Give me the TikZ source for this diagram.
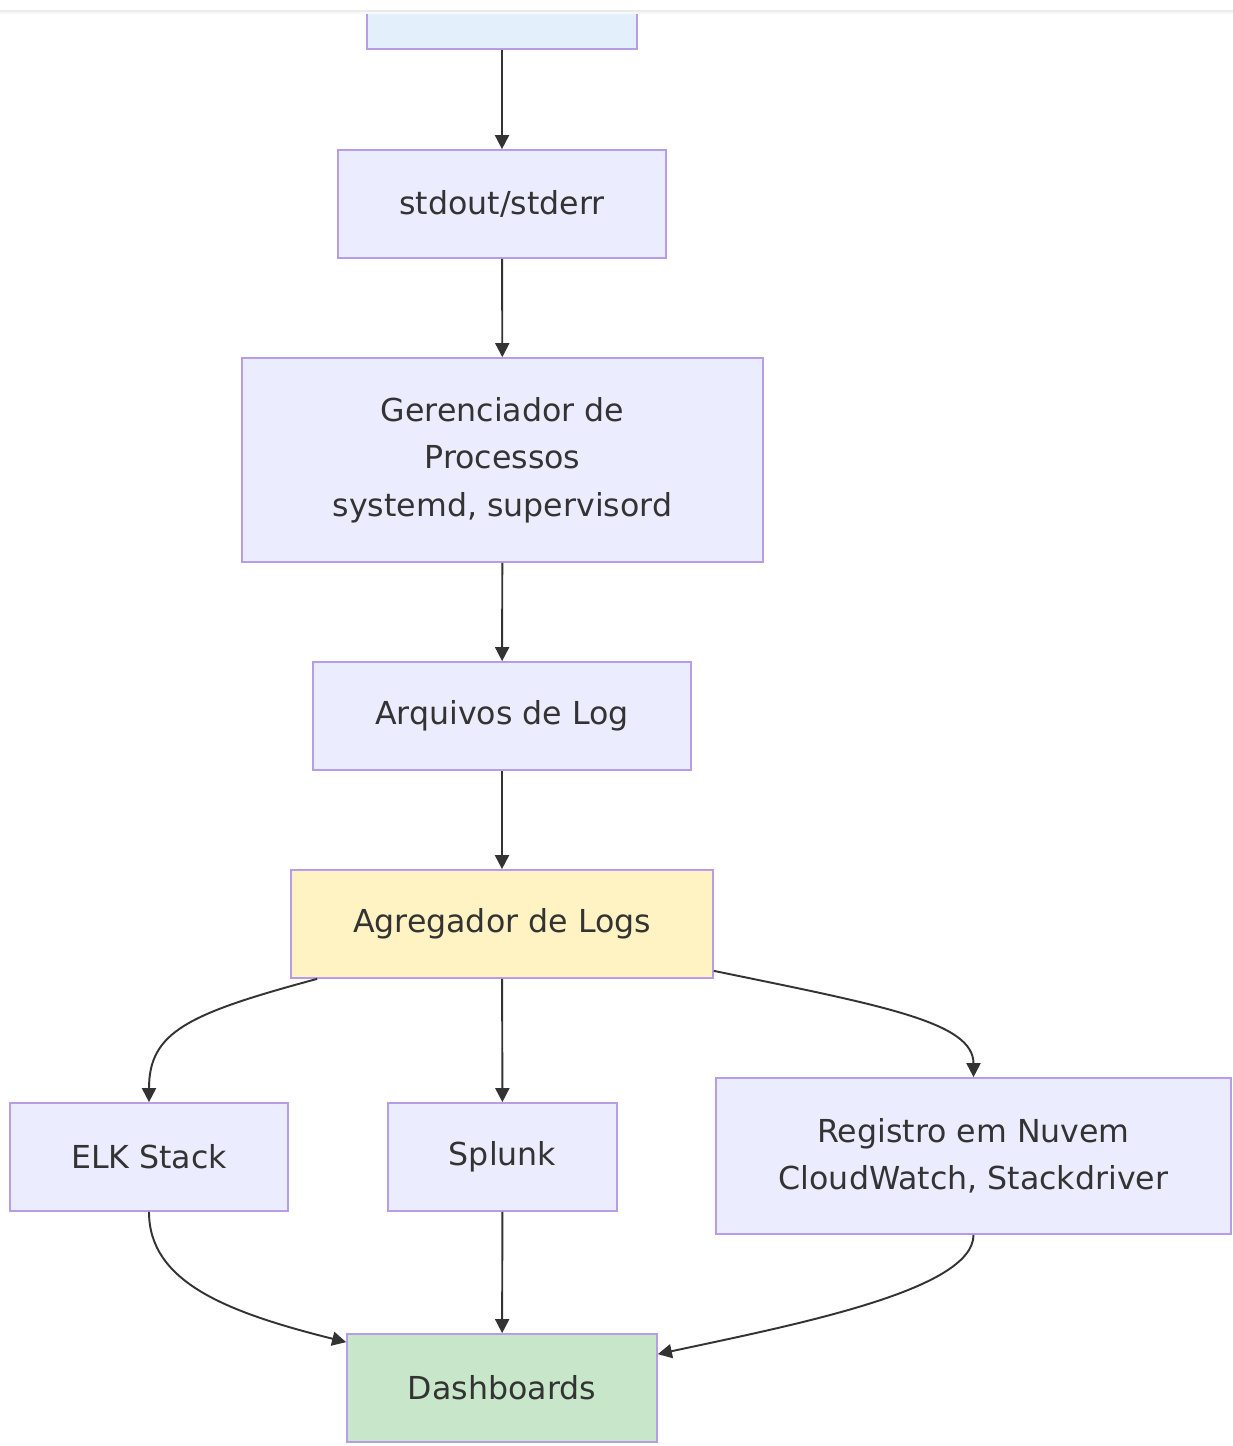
\documentclass[tikz,border=0pt]{standalone}
\usepackage{fontspec}
\setmainfont{DejaVu Sans}
\usepackage{tikz}
\usetikzlibrary{arrows.meta, positioning}

\definecolor{boxfill}{HTML}{ECECFF}
\definecolor{boxline}{HTML}{B79DE6}
\definecolor{srcfill}{HTML}{E3EFFB}
\definecolor{aggfill}{HTML}{FFF3C4}
\definecolor{dashfill}{HTML}{C8E6C9}
\definecolor{linecol}{HTML}{333333}

\begin{document}
\begin{tikzpicture}[x=0.02cm, y=-0.02cm,
    block/.style={rectangle, draw=boxline, fill=boxfill, line width=1pt, inner sep=0pt, align=center, text=linecol,
        font=\fontsize{18}{27}\selectfont, minimum height=2.16cm},
    line/.style={draw=linecol, line width=1.1pt, -{Triangle[length=8pt, width=8pt]}}]

    \useasboundingbox (0,0) rectangle (1233,1446);
    \clip (0,0) rectangle (1233,1446);

    \node [block, fill=srcfill, minimum width=5.4cm, minimum height=2.4cm] (source) at (502,-11) {};
    \node [block, minimum width=6.56cm] (std) at (502,204) {stdout/stderr};
    \node [block, minimum width=10.42cm, minimum height=4.08cm] (proc) at (502.5,460) {Gerenciador de\\Processos\\systemd, supervisord};
    \node [block, minimum width=7.56cm] (files) at (502,716) {Arquivos de Log};
    \node [block, fill=aggfill, minimum width=8.44cm] (agg) at (502,924) {Agregador de Logs};
    \node [block, minimum width=5.56cm] (elk) at (149,1157) {ELK Stack};
    \node [block, minimum width=4.58cm] (splunk) at (502.5,1157) {Splunk};
    \node [block, minimum width=10.3cm, minimum height=3.12cm] (cloud) at (973.5,1156) {Registro em Nuvem\\CloudWatch, Stackdriver};
    \node [block, fill=dashfill, minimum width=6.2cm] (dash) at (502,1388) {Dashboards};

    % top edge of the screenshot
    \fill [white] (0,0) rectangle (1233,10);
    \fill [black!8] (0,10) rectangle (1233,12);
    \fill [black!3] (0,12) rectangle (1233,14);

    \path [line] (source) -- (std);
    \path [line] (std) -- (proc);
    \path [line] (proc) -- (files);
    \path [line] (files) -- (agg);
    \path [line] ([xshift=0.54cm]agg.south west) .. controls +(-130,35) and +(0,-70) .. (elk.north);
    \path [line] (agg) -- (splunk);
    \path [line] ([yshift=0.16cm]agg.south east) .. controls +(170,35) and +(0,-55) .. (cloud.north);
    \path [line] (elk.south) .. controls +(0,70) and +(-120,-30) .. ([yshift=-0.18cm]dash.north west);
    \path [line] (splunk) -- (dash);
    \path [line] (cloud.south) .. controls +(0,55) and +(140,-30) .. ([yshift=-0.42cm]dash.north east);
\end{tikzpicture}
\end{document}
